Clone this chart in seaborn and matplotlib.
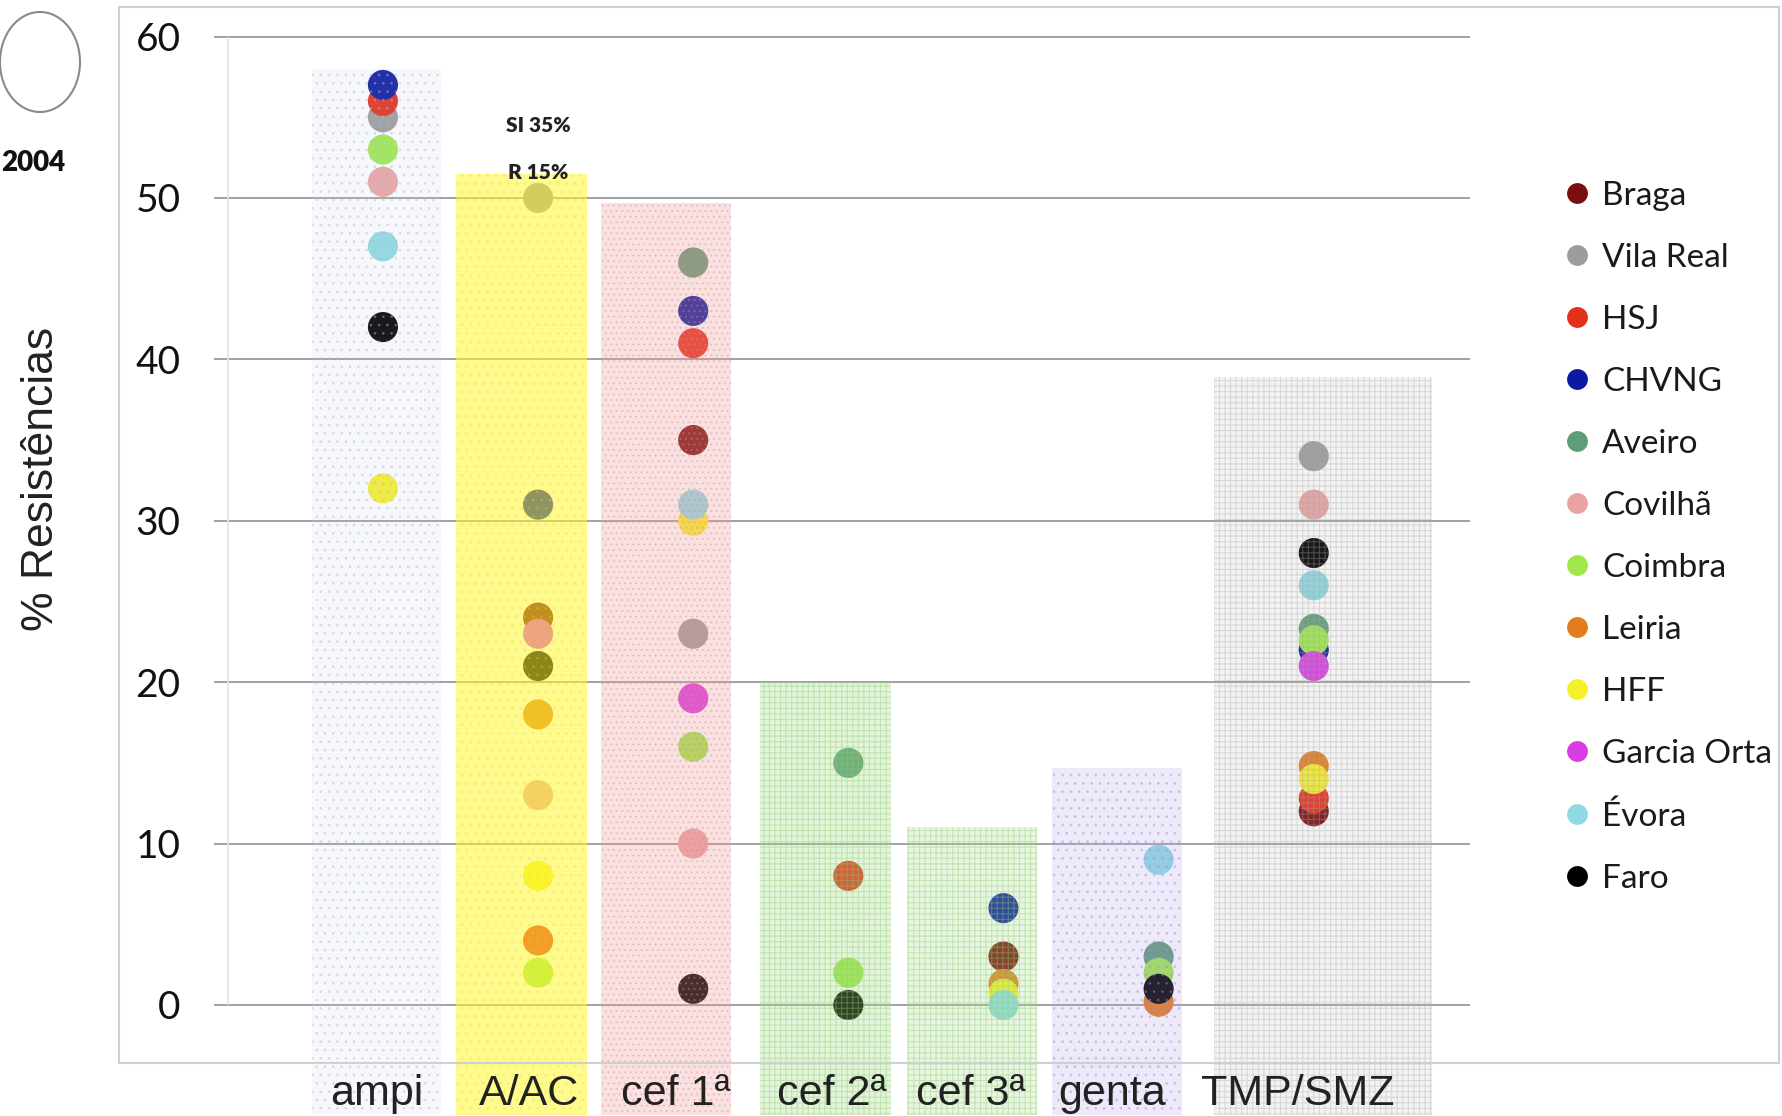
import numpy as np
import pandas as pd
import matplotlib
matplotlib.use("Agg")
import matplotlib.pyplot as plt
from matplotlib import font_manager
from matplotlib.lines import Line2D
from matplotlib.patches import Rectangle, Ellipse
import seaborn as sns

# ---------------------------------------------------------------- data
antibiotics = ["ampi", "A/AC", "cef 1ª", "cef 2ª", "cef 3ª", "genta", "TMP/SMZ"]
hospitals = ["Braga", "Vila Real", "HSJ", "CHVNG", "Aveiro", "Covilhã",
             "Coimbra", "Leiria", "HFF", "Garcia Orta", "Évora", "Faro"]

nan = np.nan
# % resistance per hospital, one value per antibiotic (same order as above)
braga       = [nan, 24,  35,  nan, 3,   nan, 12]
vila_real   = [55,  50,  23,  nan, nan, nan, 34]
hsj         = [56,  4,   41,  8,   nan, nan, 12.8]
chvng       = [57,  31,  43,  nan, 6,   nan, 22]
aveiro      = [nan, nan, 46,  15,  nan, 3,   23.3]
covilha     = [51,  13,  10,  nan, nan, nan, 31]
coimbra     = [53,  2,   16,  2,   nan, 2,   22.6]
leiria      = [nan, 18,  nan, nan, 1.3, 0.2, 14.8]
hff         = [32,  8,   30,  nan, 0.7, nan, 14]
garcia_orta = [nan, 23,  19,  nan, nan, nan, 21]
evora       = [47,  nan, 31,  nan, 0,   9,   26]
faro        = [42,  21,  1,   0,   nan, 1,   28]

# height of the shaded column behind each antibiotic
band_top = [58, 51.5, 49.7, 20, 11, 14.7, 38.9]

# A/AC note
note_lines = ["SI 35%", "R 15%"]

# ---------------------------------------------------------------- styles
hospital_colors = ["#7a0f0f", "#9c9c9c", "#e2301c", "#0b1aa0", "#5f9c78", "#eaa3a3",
                   "#9ee84c", "#e27c1c", "#f6f02c", "#d93ce2", "#8fd9e2", "#000000"]

band_offset = [-0.04, -0.106, -0.176, -0.147, -0.205, -0.267, 0.059]
band_width = [0.83, 0.84, 0.84, 0.84, 0.84, 0.84, 1.41]
band_fill = [(0.78, 0.81, 0.91, 0.13), (1.0, 0.97, 0.19, 0.55), (0.94, 0.62, 0.62, 0.30),
             (0.64, 0.86, 0.53, 0.30), (0.66, 0.87, 0.55, 0.26), (0.69, 0.62, 0.91, 0.22),
             (0.70, 0.70, 0.70, 0.15)]
band_hatch = ["..", "..", "...", "+++", "+++", "..", "+++"]
band_hatch_color = [(0.7, 0.72, 0.85, 0.35), (0.9, 0.85, 0.2, 0.25), (0.85, 0.55, 0.55, 0.35),
                    (0.55, 0.80, 0.45, 0.40), (0.55, 0.80, 0.45, 0.40), (0.60, 0.55, 0.85, 0.35),
                    (0.65, 0.65, 0.65, 0.35)]
label_pos = [-0.04, 0.94, 1.89, 2.89, 3.79, 4.70, 5.90]

# ---------------------------------------------------------------- fonts
sns.set_theme(style="white")
names = {f.name for f in font_manager.fontManager.ttflist}
narrow = "Liberation Sans Narrow" if "Liberation Sans Narrow" in names else "Liberation Sans"
body = "Lato" if "Lato" in names else "DejaVu Sans"
plt.rcParams["font.family"] = [body, "DejaVu Sans"]
plt.rcParams["hatch.linewidth"] = 0.8

# ---------------------------------------------------------------- frame
W, H = 1782, 1116
fig = plt.figure(figsize=(W / 100, H / 100), dpi=100)

px_left, px_right = 214, 1469.5
px_top, px_bottom = 7, 1062.6
ax = fig.add_axes([px_left / W, 1 - px_bottom / H,
                   (px_right - px_left) / W, (px_bottom - px_top) / H])

series = [braga, vila_real, hsj, chvng, aveiro, covilha, coimbra,
          leiria, hff, garcia_orta, evora, faro]
rows = []
for name, vals in zip(hospitals, series):
    for ab, v in zip(antibiotics, vals):
        if not np.isnan(v):
            rows.append({"antibiotic": ab, "hospital": name, "value": v})
df = pd.DataFrame(rows)
df["antibiotic"] = pd.Categorical(df["antibiotic"], categories=antibiotics, ordered=True)

palette = dict(zip(hospitals, hospital_colors))
sns.scatterplot(data=df, x="antibiotic", y="value", hue="hospital",
                hue_order=hospitals, palette=palette, s=470, linewidth=0,
                legend=False, ax=ax, zorder=2)

# shaded columns over the points
band_bottom = -6.8
for i in range(len(antibiotics)):
    x = i + band_offset[i]
    ax.bar(x, band_top[i] - band_bottom, bottom=band_bottom, width=band_width[i],
           color=band_fill[i], linewidth=0, zorder=3, clip_on=False)
    ax.bar(x, band_top[i] - band_bottom, bottom=band_bottom, width=band_width[i],
           facecolor="none", edgecolor=band_hatch_color[i], hatch=band_hatch[i],
           linewidth=0, zorder=3.1, clip_on=False)

# A/AC note above its column
aac = antibiotics.index("A/AC")
ax.text(aac, 54.5, note_lines[0], ha="center", va="center", fontsize=15,
        fontweight="heavy", color="#222222", zorder=5)
ax.text(aac, 51.6, note_lines[1], ha="center", va="center", fontsize=15,
        fontweight="heavy", color="#222222", zorder=5)

ax.set_xlim(-1.089, 7.004)
ax.set_ylim(-3.57, 61.83)
ax.set_yticks(range(0, 61, 10))
ax.yaxis.grid(True, color="#9a9a9a", linewidth=1.3, zorder=1)
ax.xaxis.grid(False)
ax.set_axisbelow(True)
ax.vlines(-1.0, 0, 60, color="#e2e2e2", linewidth=1.2, zorder=1)
for s in ax.spines.values():
    s.set_visible(False)
ax.set_facecolor("none")

ax.tick_params(axis="y", length=0, pad=24, labelsize=28, labelcolor="#111111")
ax.set_xticks(label_pos)
ax.set_xticklabels(antibiotics, fontfamily=narrow, fontsize=31, color="#222222")
ax.tick_params(axis="x", length=0, pad=8)
ax.xaxis.set_zorder(6)
ax.set_xlabel("")
ax.set_ylabel("% Resistências", fontfamily="Liberation Sans", fontsize=32, color="#222222")
ax.yaxis.set_label_coords(-0.121, 0.553)

# legend
handles = [Line2D([0], [0], marker="o", linestyle="none", markersize=15,
                  markerfacecolor=c, markeredgewidth=0) for c in hospital_colors]
fig.legend(handles, hospitals, loc="upper left", bbox_to_anchor=(1567 / W, 1 - 181 / H),
           frameon=False, fontsize=24, handlelength=0.6, handletextpad=0.45,
           labelspacing=0.96, borderpad=0, borderaxespad=0, labelcolor="#1a1a1a")

# outer frame
fig.patches.append(Rectangle((119 / W, 1 - px_bottom / H), (1779 - 119) / W,
                             (px_bottom - px_top) / H, transform=fig.transFigure,
                             fill=False, edgecolor="#cfcfcf", linewidth=1.5, zorder=10))

# emblem and year at the top left
fig.patches.append(Ellipse((40 / W, 1 - 62 / H), 80 / W, 100 / H, transform=fig.transFigure,
                           fill=False, edgecolor="#8a8a8a", linewidth=1.5, zorder=10))
fig.text(1 / W, 1 - 163 / H, "2004", ha="left", va="center", fontsize=20,
         fontweight="heavy", color="#111111")

fig.savefig("out.png", dpi=100)
